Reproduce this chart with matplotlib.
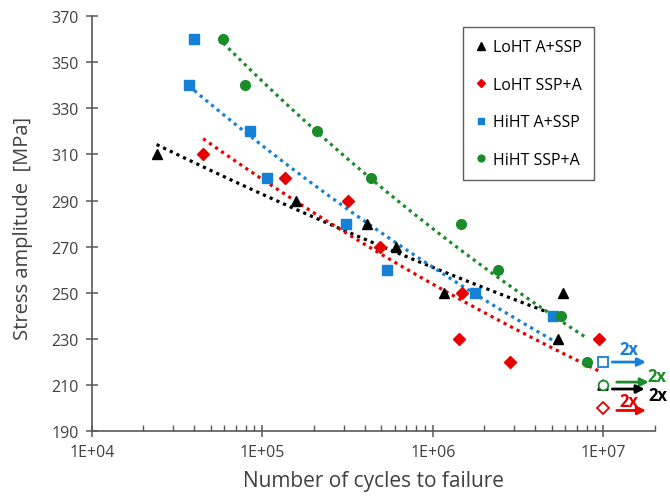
import numpy as np
import matplotlib
matplotlib.use('Agg')
from matplotlib import pyplot as plt
from matplotlib.ticker import LogLocator, NullFormatter

plt.rcParams['font.family'] = ['Open Sans', 'DejaVu Sans']

# failure data (cycles, stress amplitude MPa)
lo_a_ssp_n = [2.4e4, 1.58e5, 4.1e5, 6.1e5, 1.16e6, 5.4e6, 5.8e6]
lo_a_ssp_s = [310, 290, 280, 270, 250, 230, 250]
lo_ssp_a_n = [4.5e4, 1.35e5, 3.2e5, 4.9e5, 1.49e6, 1.43e6, 2.85e6, 9.4e6]
lo_ssp_a_s = [310, 300, 290, 270, 250, 230, 220, 230]
hi_a_ssp_n = [4.0e4, 3.7e4, 8.5e4, 1.07e5, 3.08e5, 5.37e5, 1.77e6, 5.04e6]
hi_a_ssp_s = [360, 340, 320, 300, 280, 260, 250, 240]
hi_ssp_a_n = [5.9e4, 7.9e4, 2.09e5, 4.35e5, 1.47e6, 2.42e6, 5.65e6, 8.07e6]
hi_ssp_a_s = [360, 340, 320, 300, 280, 260, 240, 220]

# run-outs at 1E+07
runout_n = 1e7
runout_s = {'lo_a_ssp': 210, 'lo_ssp_a': 200, 'hi_a_ssp': 220, 'hi_ssp_a': 210}

labels = ['LoHT A+SSP', 'LoHT SSP+A', 'HiHT A+SSP', 'HiHT SSP+A']
yticks = [190, 210, 230, 250, 270, 290, 310, 330, 350, 370]
xticks = [1e4, 1e5, 1e6, 1e7]
xticklabels = ['1E+04', '1E+05', '1E+06', '1E+07']

black = '#000000'
red = '#e60000'
blue = '#1581d6'
green = '#1a8c2a'
gray = '#595959'

fig = plt.figure(figsize=(6.70, 5.02), dpi=100)
ax = fig.add_axes([0.137, 0.139, 0.840, 0.827])

series = [
    (lo_a_ssp_n, lo_a_ssp_s, black, '^', 7.5, 'lo_a_ssp'),
    (lo_ssp_a_n, lo_ssp_a_s, red, 'D', 6, 'lo_ssp_a'),
    (hi_a_ssp_n, hi_a_ssp_s, blue, 's', 6.5, 'hi_a_ssp'),
    (hi_ssp_a_n, hi_ssp_a_s, green, 'o', 7, 'hi_ssp_a'),
]

for (n, s, c, m, ms, key), lab in zip(series, labels):
    n = np.array(n)
    s = np.array(s)
    # power trendline (like Excel)
    b, a = np.polyfit(np.log10(n), np.log10(s), 1)
    xx = np.logspace(np.log10(n.min()), np.log10(n.max()), 100)
    ax.plot(xx, 10**a * xx**b, color=c, ls=(0, (1, 1.3)), lw=2.3, zorder=2)
    ax.plot(n, s, ls='none', marker=m, ms=ms, color=c, label=lab, zorder=3)
    ax.plot([runout_n], [runout_s[key]], ls='none', marker=m, ms=ms,
            markerfacecolor='white', markeredgecolor=c, markeredgewidth=1.3, zorder=3)

# run-out arrows
arrows = [
    (220, blue, 1.13e7, 1.78e7, 1.42e7, 225.5),
    (211.3, green, 1.2e7, 1.85e7, 2.05e7, 214),
    (208.3, black, 1.13e7, 1.75e7, 2.1e7, 205.5),
    (199, red, 1.2e7, 1.78e7, 1.42e7, 203.2),
]
for y, c, x0, x1, tx, ty in arrows:
    ax.annotate('', xy=(x1, y), xytext=(x0, y),
                arrowprops=dict(arrowstyle='-|>', color=c, lw=2, mutation_scale=12,
                                shrinkA=0, shrinkB=0), annotation_clip=False)
    ax.text(tx, ty, '2x', color=c, fontsize=12, fontweight='bold',
            ha='center', va='center', clip_on=False)

ax.set_xscale('log')
ax.set_xlim(1e4, 2e7)
ax.set_ylim(190, 370)
ax.set_xticks(xticks)
ax.set_xticklabels(xticklabels)
ax.xaxis.set_minor_locator(LogLocator(base=10, subs=np.arange(2, 10)))
ax.xaxis.set_minor_formatter(NullFormatter())
ax.set_yticks(yticks)

for sp in ['top', 'right']:
    ax.spines[sp].set_visible(False)
for sp in ['left', 'bottom']:
    ax.spines[sp].set_color(gray)
    ax.spines[sp].set_linewidth(1.2)

ax.tick_params(axis='both', which='major', direction='inout', length=9, width=1.1,
               color=gray, labelcolor='#404040', labelsize=11.5, pad=5)
ax.tick_params(axis='x', which='minor', direction='in', length=4, width=1, color=gray)

ax.set_xlabel('Number of cycles to failure', fontsize=15, color='#404040', labelpad=7)
ax.set_ylabel('Stress amplitude  [MPa]', fontsize=14.5, color='#404040')
ax.yaxis.set_label_coords(-0.105, 0.49)

leg = ax.legend(loc='upper left', bbox_to_anchor=(0.659, 0.973), fontsize=11.5,
                frameon=True, fancybox=False, markerscale=0.7, handlelength=0.8,
                handletextpad=0.35, labelspacing=1.35, borderpad=0.75, borderaxespad=0)
leg.get_frame().set_edgecolor('#333333')
leg.get_frame().set_linewidth(1.0)

fig.savefig('out.png', dpi=100)
